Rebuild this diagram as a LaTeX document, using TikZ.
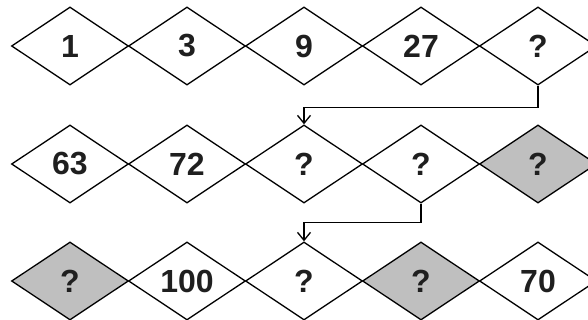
\documentclass[tikz,border=0pt]{standalone}
\usepackage{fontspec}
\setmainfont{Liberation Sans}
\usetikzlibrary{shapes.geometric,arrows.meta}
\definecolor{cellgray}{RGB}{191,191,191}
\tikzset{
  losange/.style={draw, shape=diamond, line width=1.3pt, minimum width=117pt,
    minimum height=78pt, inner sep=0pt, text=black!88,
    font=\fontsize{32}{32}\selectfont\bfseries},
  grise/.style={losange, fill=cellgray},
  fleche/.style={line width=1.3pt, -{Straight Barb[length=8pt,width=13pt]}}
}
\begin{document}
\begin{tikzpicture}[x=1pt,y=-1pt]
  \useasboundingbox (0,0) rectangle (588,320);
  % Premiere ligne
  \node[losange] (a1) at (70,46) {1};
  \node[losange] (a2) at (187,46) {3};
  \node[losange] (a3) at (304,46) {9};
  \node[losange] (a4) at (421,46) {27};
  \node[losange] (a5) at (538,46) {?};
  % Deuxieme ligne
  \node[losange] (b1) at (70,164) {63};
  \node[losange] (b2) at (187,164) {72};
  \node[losange] (b3) at (304,164) {?};
  \node[losange] (b4) at (421,164) {?};
  \node[grise] (b5) at (538,164) {?};
  % Troisieme ligne
  \node[grise] (c1) at (70,281) {?};
  \node[losange] (c2) at (187,281) {100};
  \node[losange] (c3) at (304,281) {?};
  \node[grise] (c4) at (421,281) {?};
  \node[losange] (c5) at (538,281) {70};
  % Fleches
  \draw[fleche] (a5.south) -- ++(0,22) -| (b3.north);
  \draw[fleche] (b4.south) -- ++(0,19) -| (c3.north);
\end{tikzpicture}
\end{document}
